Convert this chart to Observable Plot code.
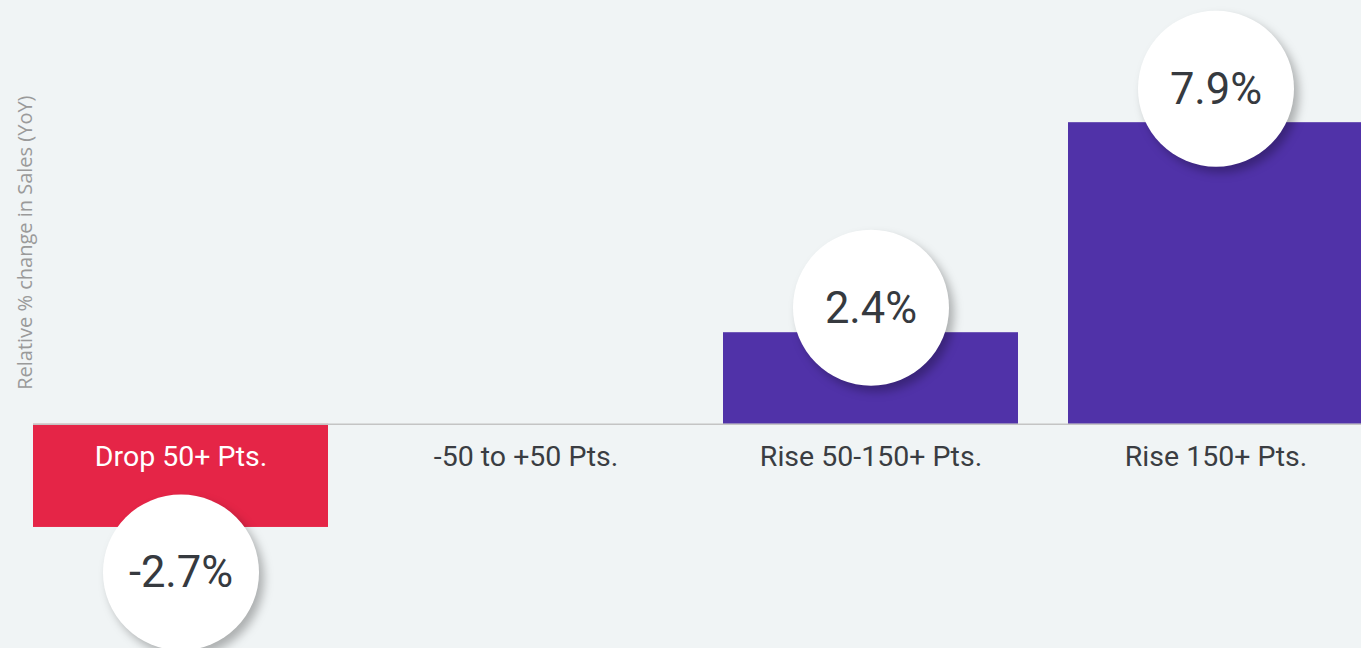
<!DOCTYPE html>
<html>
<head>
<meta charset="utf-8">
<script src="https://cdn.jsdelivr.net/npm/d3@7"></script>
<script src="https://cdn.jsdelivr.net/npm/@observablehq/plot@0.6"></script>
<style>
  html, body { margin: 0; padding: 0; background: #f0f4f5; }
  #chart svg { display: block; background: #f0f4f5; }
  #chart g[aria-label="dot"] circle { filter: drop-shadow(5px 6px 5px rgba(0,0,0,0.28)); }
</style>
</head>
<body>
<div id="chart"></div>
<script>
const categories = ["Drop 50+ Pts.", "-50 to +50 Pts.", "Rise 50-150+ Pts.", "Rise 150+ Pts."];
const values = [-2.7, 0, 2.4, 7.9];
const valueLabels = ["-2.7%", "", "2.4%", "7.9%"];
const barColors = ["#e52547", "#5032a8", "#5032a8", "#5032a8"];
const labelColors = ["#ffffff", "#3a3d42", "#3a3d42", "#3a3d42"];
const yTitle = "Relative % change in Sales (YoY)";

const data = categories.map((c, i) => ({
  cat: c, value: values[i], label: valueLabels[i], bar: barColors[i], text: labelColors[i]
}));

const font = "Roboto, 'DejaVu Sans', sans-serif";

// badge offsets (pixels) from the bar end, per category
const badgeShift = { "Drop 50+ Pts.": 45, "Rise 50-150+ Pts.": -25, "Rise 150+ Pts.": -34 };
const badgeMarks = data.filter(d => d.label).flatMap(d => [
  Plot.dot([d], { x: "cat", y: "value", r: 78, fill: "white", dy: badgeShift[d.cat] }),
  Plot.text([d], { x: "cat", y: "value", text: "label", fill: "#363a3f", dy: badgeShift[d.cat] + 1, fontSize: 43.5, fontFamily: font })
]);

const chart = Plot.plot({
  width: 1361,
  height: 648,
  marginLeft: 33,
  marginRight: -2,
  marginTop: 0,
  marginBottom: 0,
  style: { background: "#f0f4f5", fontFamily: font },
  x: { domain: categories, axis: null, paddingInner: 0.145, paddingOuter: 0 },
  y: { domain: [-5.87, 11.1], axis: null },
  color: { type: "identity" },
  marks: [
    Plot.barY(data, { x: "cat", y: "value", fill: "bar" }),
    Plot.ruleY([0], { stroke: "#c4c4c4", strokeWidth: 1.5 }),
    Plot.text(data, { x: "cat", y: () => 0, text: "cat", fill: "text", dy: 33, fontSize: 28.5, fontFamily: font }),
    ...badgeMarks,
    Plot.text([yTitle], { frameAnchor: "top-left", text: d => d, rotate: -90, textAnchor: "end", dx: -16, dy: 95, fill: "#9a9a9a", fontSize: 20, fontFamily: "'Open Sans', sans-serif" })
  ]
});
document.getElementById("chart").appendChild(chart);
</script>
</body>
</html>
